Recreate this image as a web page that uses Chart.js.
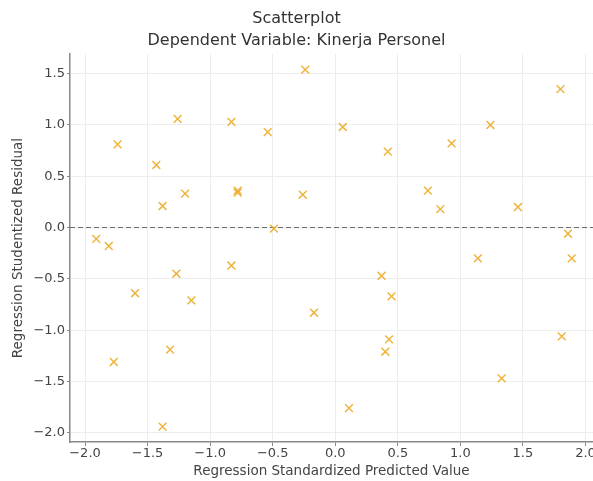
<!DOCTYPE html>
<html lang="en">
<head>
  <meta charset="UTF-8" />
  <title>Scatterplot</title>
  <script src="https://cdn.jsdelivr.net/npm/chart.js"></script>
  <style>
    html, body { margin: 0; padding: 0; background: #fff; overflow: hidden; }
    #wrap { width: 593px; height: 481px; }
  </style>
</head>
<body>
  <div id="wrap"><canvas id="scatter" width="593" height="481"></canvas></div>

  <script>
    // values
    const predicted = [
      -0.24, 1.80, -1.26, -0.83, -0.54, 0.06, 1.24, -1.74, 0.42, 0.93,
      -1.43, 0.74, -0.78, -0.78, -1.20, -1.38, -0.26, 0.84, 1.46, -0.49,
      -1.91, -1.81, 1.86, 1.89, 1.14, -1.27, -0.83, 0.37, 0.45, -1.60,
      -1.15, -0.17, 0.43, 0.40, -1.32, -1.77, 1.81, 1.33, 0.11, -1.38
    ];
    const residual = [
      1.54, 1.35, 1.06, 1.03, 0.93, 0.98, 1.00, 0.81, 0.74, 0.82,
      0.61, 0.36, 0.36, 0.34, 0.33, 0.21, 0.32, 0.18, 0.20, -0.01,
      -0.11, -0.18, -0.06, -0.30, -0.30, -0.45, -0.37, -0.47, -0.67, -0.64,
      -0.71, -0.83, -1.09, -1.21, -1.19, -1.31, -1.06, -1.47, -1.76, -1.94
    ];
    const xTicks = [-2.0, -1.5, -1.0, -0.5, 0.0, 0.5, 1.0, 1.5, 2.0];
    const yTicks = [-2.0, -1.5, -1.0, -0.5, 0.0, 0.5, 1.0, 1.5];
    const zeroLineX = [-2.12, 2.06];

    const points = predicted.map((x, i) => ({ x: x, y: residual[i] }));
    const fmt = v => v.toFixed(1).replace('-', '\u2212');

    new Chart(document.getElementById('scatter').getContext('2d'), {
      type: 'scatter',
      data: {
        datasets: [
          {
            data: zeroLineX.map(x => ({ x: x, y: 0 })),
            type: 'line',
            showLine: true,
            borderColor: '#666',
            borderWidth: 1,
            borderDash: [5, 3],
            pointRadius: 0,
            order: 2
          },
          {
            data: points,
            pointStyle: 'crossRot',
            pointRadius: 5.5,
            borderWidth: 1.5,
            borderColor: 'rgba(234,168,30,0.85)',
            backgroundColor: 'rgba(234,168,30,0.85)',
            order: 1
          }
        ]
      },
      options: {
        responsive: false,
        animation: false,
        layout: { autoPadding: false, padding: 0 },
        plugins: {
          legend: { display: false },
          tooltip: { enabled: false },
          title: {
            display: true,
            text: ['Scatterplot', 'Dependent Variable: Kinerja Personel'],
            color: '#333',
            font: { family: 'DejaVu Sans', size: 16, weight: 'normal', lineHeight: 1.38 },
            padding: { top: 8, bottom: 2 }
          }
        },
        scales: {
          x: {
            type: 'linear',
            min: -2.12,
            max: 2.06,
            afterBuildTicks: s => { s.ticks = xTicks.map(v => ({ value: v })); },
            afterFit: s => { s.paddingRight = 0; s.paddingLeft = 0; s.height = 39; },
            ticks: {
              callback: v => fmt(v),
              color: '#444',
              font: { family: 'DejaVu Sans', size: 13 },
              padding: 0,
              maxRotation: 0
            },
            grid: { color: '#ededed', tickColor: '#888', tickLength: 4, lineWidth: 1 },
            border: { color: '#888', width: 1.5 },
            title: {
              display: true,
              text: 'Regression Standardized Predicted Value',
              color: '#444',
              font: { family: 'DejaVu Sans', size: 13.5 },
              padding: { top: 0, bottom: 1 }
            }
          },
          y: {
            type: 'linear',
            min: -2.09,
            max: 1.69,
            afterBuildTicks: s => { s.ticks = yTicks.map(v => ({ value: v })); },
            afterFit: s => { s.width = 70; s.paddingTop = 0; s.paddingBottom = 0; },
            ticks: {
              callback: v => fmt(v),
              color: '#444',
              font: { family: 'DejaVu Sans', size: 13 },
              padding: 2
            },
            grid: { color: '#ededed', tickColor: '#888', tickLength: 3, lineWidth: 1 },
            border: { color: '#888', width: 1.5 },
            title: {
              display: true,
              text: 'Regression Studentized Residual',
              color: '#444',
              font: { family: 'DejaVu Sans', size: 13.5 },
              padding: { top: 10, bottom: 4 }
            }
          }
        }
      }
    });
  </script>
</body>
</html>
